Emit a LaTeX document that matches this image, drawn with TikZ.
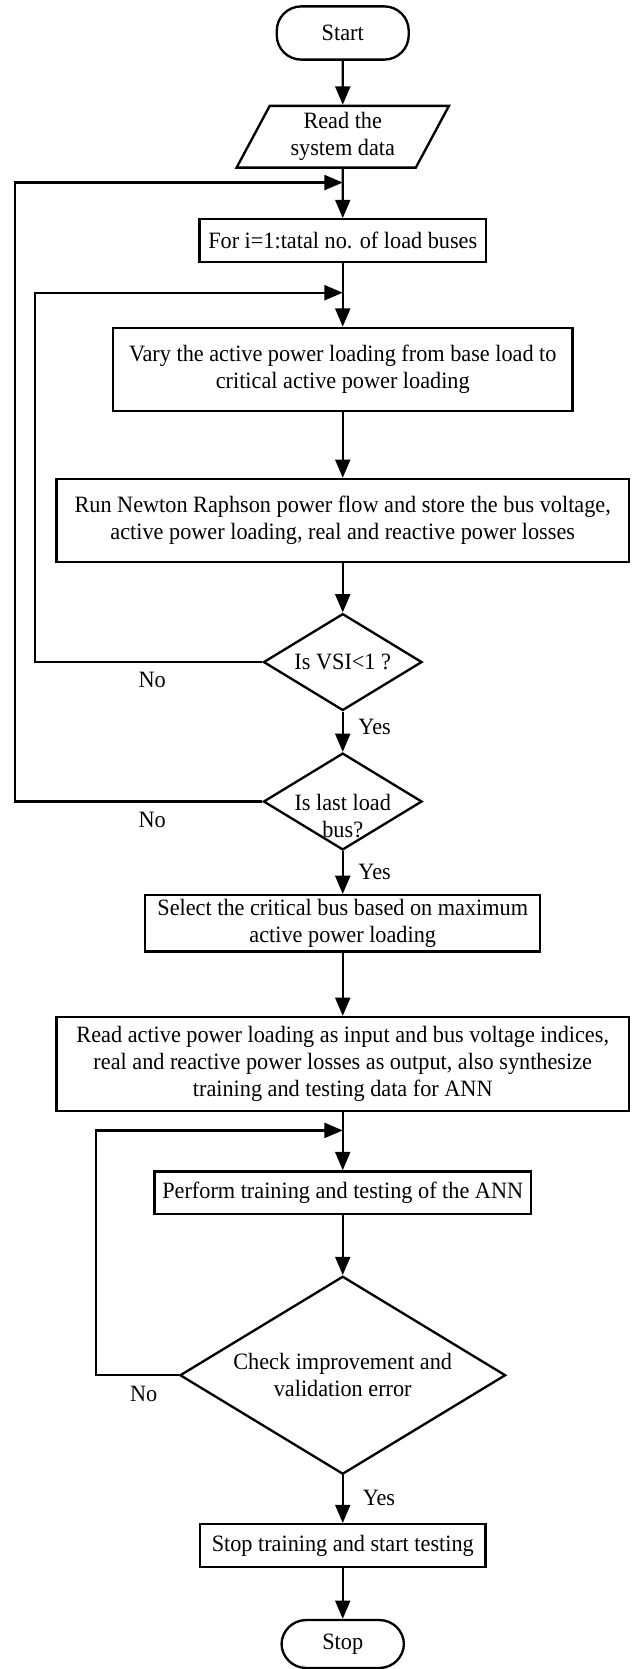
\documentclass[tikz,border=0pt]{standalone}
\usepackage{fontspec}
\setmainfont{Liberation Serif}[FakeStretch=0.95]
\usetikzlibrary{arrows.meta,shapes.geometric}

\begin{document}
\begin{tikzpicture}[x=0.5pt,y=-0.5pt,line width=1.1pt,
        >={Triangle[length=8.6pt,width=7pt]},
        every node/.style={font=\fontsize{11}{12.8}\selectfont},
        term/.style={draw,rectangle,rounded corners=11.5pt,inner sep=0pt},
        io/.style={draw,trapezium,trapezium left angle=64,trapezium right angle=116,
            trapezium stretches=true,inner sep=0pt,align=center},
        proc/.style={draw,rectangle,inner sep=0pt,align=center},
        decision/.style={draw,diamond,inner sep=0pt},
        lbl/.style={inner sep=0pt,align=center}]
        \useasboundingbox (0,0) rectangle (605,1568);
        % main column
        \node[term,minimum width=62pt,minimum height=25pt] (start) at (322,31) {Start};
        \node[io,minimum width=100pt,minimum height=29pt] (read) at (322,128.5) {Read the\\system data};
        \node[proc,minimum width=134.5pt,minimum height=20pt] (forbus) at (322,226) {For i=1:tatal no. of load buses};
        \node[proc,minimum width=216pt,minimum height=39pt] (vary) at (322,347) {Vary the active power loading from base load to\\critical active power loading};
        \node[proc,minimum width=269pt,minimum height=39pt] (nr) at (322,489) {Run Newton Raphson power flow and store the bus voltage,\\active power loading, real and reactive power losses};
        \node[decision,minimum width=74.5pt,minimum height=45.5pt] (vsi) at (322,622) {};
        \node[lbl] (vsitxt) at (vsi) {Is VSI<1 ?};
        \node[decision,minimum width=74.5pt,minimum height=45.5pt] (lastbus) at (322,753) {};
        \node[lbl,yshift=-6.75pt] (lastbustxt) at (lastbus) {Is last load\\bus?};
        \node[proc,minimum width=185.5pt,minimum height=26.5pt] (select) at (322,867.5) {Select the critical bus based on maximum\\active power loading};
        \node[proc,minimum width=269pt,minimum height=44pt] (ann) at (322,999.5) {Read active power loading as input and bus voltage indices,\\real and reactive power losses as output, also synthesize\\training and testing data for ANN};
        \node[proc,minimum width=177pt,minimum height=20pt] (train) at (322,1120.5) {Perform training and testing of the ANN};
        \node[decision,minimum width=153pt,minimum height=93pt] (check) at (322,1292) {};
        \node[lbl] (checktxt) at (check) {Check improvement and\\validation error};
        \node[proc,minimum width=134pt,minimum height=20pt] (stoptr) at (322,1452) {Stop training and start testing};
        \node[term,minimum width=57.5pt,minimum height=22.5pt] (stop) at (322,1544.5) {Stop};
        % labels
        \node[lbl] (no1) at (143,639) {No};
        \node[lbl] (yes1) at (352,683) {Yes};
        \node[lbl] (no2) at (143,770) {No};
        \node[lbl] (yes2) at (352,819) {Yes};
        \node[lbl] (no3) at (135,1310) {No};
        \node[lbl] (yes3) at (356,1407) {Yes};
        % joins
        \coordinate (j1) at (322,171.5);
        \coordinate (j2) at (322,275);
        \coordinate (j3) at (322,1062);
        \draw[->] (start) -- (read);
        \draw[->] (read) -- (forbus);
        \draw[->] (forbus) -- (vary);
        \draw[->] (vary) -- (nr);
        \draw[->] (nr) -- (vsi);
        \draw[->] (vsi) -- (lastbus);
        \draw[->] (lastbus) -- (select);
        \draw[->] (select) -- (ann);
        \draw[->] (ann) -- (train);
        \draw[->] (train) -- (check);
        \draw[->] (check) -- (stoptr);
        \draw[->] (stoptr) -- (stop);
        % loops
        \draw[->] (vsi.west) -- (33,622) |- (j2);
        \draw[->] (lastbus.west) -- (14,753) |- (j1);
        \draw[->] (check.west) -- (90,1292) |- (j3);
    \end{tikzpicture}
\end{document}
